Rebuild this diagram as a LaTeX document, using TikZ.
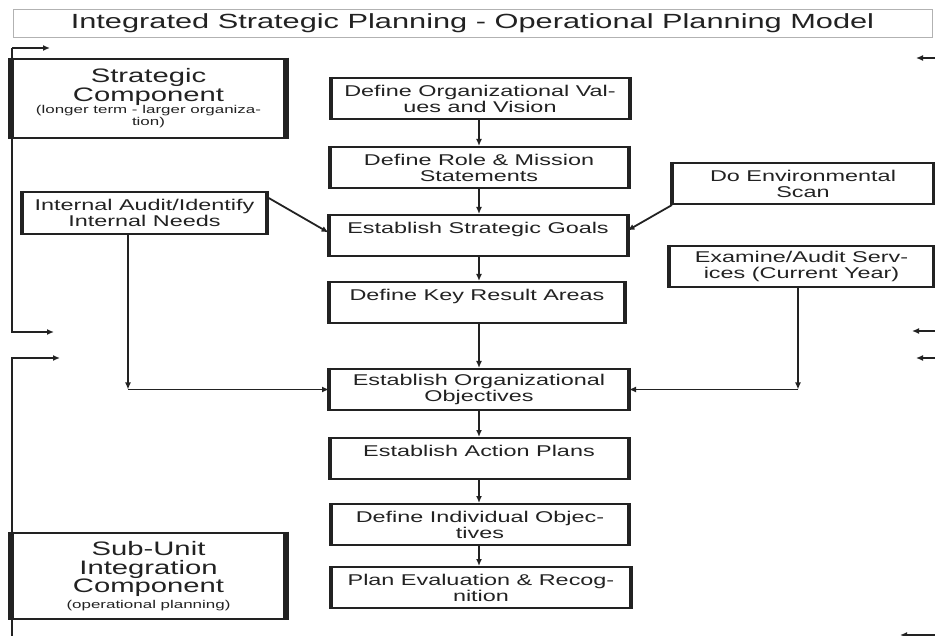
\documentclass[tikz,border=0pt]{standalone}
\usepackage{fontspec}
\setmainfont{Liberation Sans}[FakeStretch=1.5]
\usetikzlibrary{arrows.meta}
\definecolor{ink}{HTML}{222222}
\newcommand{\smalltxt}{\fontsize{11.3}{12}\selectfont}
\begin{document}
\begin{tikzpicture}[x=1pt,y=-1pt,
  ink/.style={draw=ink,line width=1.8pt},
  tip/.style={-{Latex[length=7pt,width=6pt]}},
  stepbox/.style={ink,line width=2pt,text=ink,align=center,inner sep=0pt,
    minimum width=297pt,minimum height=41pt,font=\fontsize{15.6}{16}\selectfont},
  sidebox/.style={stepbox,minimum width=260pt},
  compbox/.style={ink,line width=2.6pt,text=ink,align=center,inner sep=0pt,
    minimum width=273pt,font=\fontsize{19.5}{18.5}\selectfont},
  side/.style={draw=ink,line width=4pt},
  thickside/.style={draw=ink,line width=6pt}]
\useasboundingbox (0,0) rectangle (935,636);

% title banner
\node[draw=gray!60,line width=0.8pt,minimum width=919pt,minimum height=28pt,
  inner sep=0pt,text=ink,font=\fontsize{20.5}{22}\selectfont] (title) at (472.5,23)
  {\raisebox{-2pt}{Integrated Strategic Planning - Operational Planning Model}};

% component labels on the left
\node[compbox,minimum height=79pt] (strat) at (148.5,98.5)
  {\raisebox{-3pt}{Strategic}\\\raisebox{-3pt}{Component}\\[-3pt]\smalltxt (longer term - larger organiza-\\[-6.5pt]\smalltxt tion)};
\node[compbox,minimum height=86pt] (sub) at (148.5,576)
  {Sub-Unit\\Integration\\Component\\[-3pt]\smalltxt (operational planning)};

% main planning sequence
\node[stepbox] (b1) at (480,98.5) {Define Organizational Val-\\ues and Vision};
\node[stepbox] (b2) at (479,167.5) {Define Role \& Mission\\Statements};
\node[stepbox] (b3) at (478,235.5) {Establish Strategic Goals\\~};
\node[stepbox,minimum width=294pt] (b4) at (477,302.5) {Define Key Result Areas\\~};
\node[stepbox,minimum width=298pt] (b5) at (479,389.5) {Establish Organizational\\Objectives};
\node[stepbox] (b6) at (479,458.5) {Establish Action Plans\\~};
\node[stepbox,minimum width=296pt] (b7) at (480,524.5) {Define Individual Objec-\\tives};
\node[stepbox,minimum width=298pt] (b8) at (481,587.5) {Plan Evaluation \& Recog-\\nition};

% side inputs
\node[stepbox,minimum width=243pt,minimum height=42pt] (ia) at (144.5,213)
  {Internal Audit/Identify\\Internal Needs};
\node[sidebox] (env) at (803,183.5) {Do Environmental\\Scan};
\node[sidebox,minimum width=263pt] (ex) at (801.5,266.5) {Examine/Audit Serv-\\ices (Current Year)};

% heavier vertical edges of the boxes
\foreach \n in {b1,b2,b3,b4,b5,b6,b7,b8,ia,env,ex}{
  \draw[side] (\n.north west) -- (\n.south west);
  \draw[side] (\n.north east) -- (\n.south east);
}
\foreach \n in {strat,sub}{
  \draw[thickside] (\n.north west) -- (\n.south west);
  \draw[thickside] (\n.north east) -- (\n.south east);
}

% flow down the main sequence, on one vertical axis
\coordinate (axis) at (479,0);
\foreach \a/\b in {b1/b2,b2/b3,b3/b4,b4/b5,b5/b6,b6/b7,b7/b8}
  \draw[ink,tip] (\a.south -| axis) -- (\b.north -| axis);

% side inputs into the goals
\draw[ink,tip] ([yshift=-6pt]ia.north east) -- ([yshift=3pt]b3.west);
\draw[ink,tip] (env.south west) -- ([yshift=5pt]b3.east);

% audits feeding the objectives
\coordinate (jl) at (128,389.5);
\coordinate (jr) at (798,389.5);
\draw[ink,tip] (ia.south -| jl) -- (jl);
\draw[ink,line width=1.3pt,tip] (jl) -- (b5.west);
\draw[ink,tip] (ex.south -| jr) -- (jr);
\draw[ink,line width=1.3pt,tip] (jr) -- (b5.east);

% left brackets
\coordinate (lt0) at (12,48);
\coordinate (lt1) at (50,48);
\coordinate (lb0) at (12,332);
\coordinate (lb1) at (54,332);
\coordinate (mt0) at (12,358);
\coordinate (mt1) at (60,358);
\coordinate (mb0) at (12,636);
\draw[ink,line width=1.5pt,tip] (lt0) -- (lt1);
\draw[ink,line width=1.5pt,tip] (lt0) -- (lb0) -- (lb1);
\draw[ink,line width=1.5pt,tip] (mb0) -- (mt0) -- (mt1);

% right bracket ends
\coordinate (r1a) at (936,58);   \coordinate (r1b) at (916,58);
\coordinate (r2a) at (936,331);  \coordinate (r2b) at (912,331);
\coordinate (r3a) at (936,358);  \coordinate (r3b) at (916,358);
\coordinate (r4a) at (936,635);  \coordinate (r4b) at (900,635);
\foreach \p in {1,2,3,4}
  \draw[ink,line width=1.3pt,tip] (r\p a) -- (r\p b);
\end{tikzpicture}
\end{document}
